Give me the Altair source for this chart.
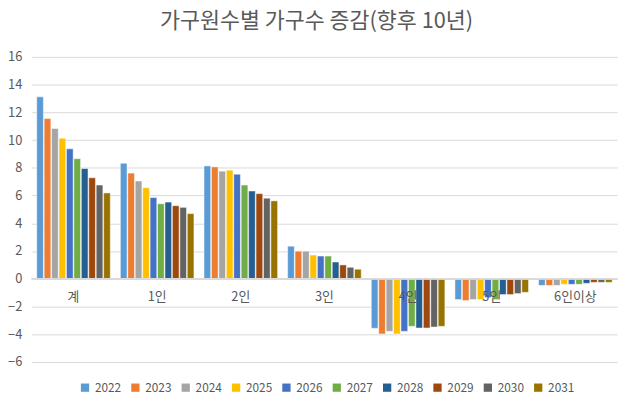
import altair as alt
import pandas as pd

categories = ["계", "1인", "2인", "3인", "4인", "5인", "6인이상"]
years = ["2022", "2023", "2024", "2025", "2026", "2027", "2028", "2029", "2030", "2031"]
values = {
    "계":     [13.12, 11.55, 10.84, 10.13, 9.37, 8.66, 7.95, 7.28, 6.76, 6.19],
    "1인":    [8.33, 7.62, 7.05, 6.57, 5.86, 5.41, 5.53, 5.27, 5.15, 4.70],
    "2인":    [8.14, 8.07, 7.76, 7.83, 7.54, 6.76, 6.33, 6.14, 5.81, 5.62],
    "3인":    [2.35, 1.99, 1.99, 1.71, 1.64, 1.64, 1.21, 1.00, 0.83, 0.69],
    "4인":    [-3.57, -3.98, -3.79, -3.98, -3.79, -3.43, -3.55, -3.55, -3.48, -3.43],
    "5인":    [-1.50, -1.57, -1.50, -1.50, -1.36, -1.50, -1.14, -1.14, -1.07, -0.98],
    "6인이상": [-0.48, -0.48, -0.48, -0.40, -0.40, -0.40, -0.33, -0.26, -0.26, -0.26],
}
colors = ["#5B9BD5", "#ED7D31", "#A5A5A5", "#FFC000", "#4472C4",
          "#70AD47", "#255E91", "#9E480E", "#636363", "#997300"]
y_ticks = list(range(-6, 17, 2))

rows = []
for c in categories:
    for y, v in zip(years, values[c]):
        rows.append({"cat": c, "year": y, "value": v})
df = pd.DataFrame(rows)
lab = pd.DataFrame({"cat": categories, "value": [0] * len(categories)})

FONT = "Noto Sans CJK KR"

xscale = alt.Scale(domain=categories, paddingInner=0.12, paddingOuter=0.06)
yscale = alt.Scale(domain=[-6, 16], nice=False)
yaxis = alt.Axis(values=y_ticks, title=None, domain=False, ticks=False,
                 labelFontSize=13, labelColor="#595959", labelFont=FONT,
                 labelOverlap=False, labelBound=False, labelFlush=False,
                 grid=True, gridColor="#d9d9d9", labelPadding=10)

bars = alt.Chart(df).mark_bar(stroke="white", strokeWidth=0.5).encode(
    x=alt.X("cat:N", scale=xscale, axis=None, sort=categories),
    xOffset=alt.XOffset("year:N", scale=alt.Scale(paddingInner=0.1), sort=years),
    y=alt.Y("value:Q", scale=yscale, axis=yaxis),
    color=alt.Color("year:N", sort=years,
                    scale=alt.Scale(domain=years, range=colors),
                    legend=alt.Legend(title=None, orient="none", legendX=48, legendY=329,
                                      direction="horizontal", columns=10,
                                      symbolType="square", symbolSize=70,
                                      symbolStrokeWidth=0,
                                      labelFontSize=12, labelColor="#595959",
                                      labelFont=FONT, columnPadding=8,
                                      labelOffset=4)),
)

zero = alt.Chart(lab).mark_rule(color="#d9d9d9", strokeWidth=1).encode(
    y=alt.Y("value:Q", scale=yscale, axis=yaxis)
)

text = alt.Chart(lab).mark_text(dy=19, fontSize=13, color="#595959", font=FONT).encode(
    x=alt.X("cat:N", scale=xscale, sort=categories, axis=None),
    y=alt.Y("value:Q", scale=yscale, axis=yaxis),
    text="cat:N",
)

chart = alt.layer(bars, zero, text).properties(
    width=593, height=309,
    autosize=alt.AutoSizeParams(type="none"),
    padding={"left": 24, "top": 47, "right": 15, "bottom": 37},
    title=alt.Title("가구원수별 가구수 증감(향후 10년)", fontSize=22, color="#595959",
                    font=FONT, fontWeight="normal", offset=18, dx=-8),
).configure_view(stroke=None)

chart.save("out.html", embed_options={"renderer": "svg", "actions": False})
